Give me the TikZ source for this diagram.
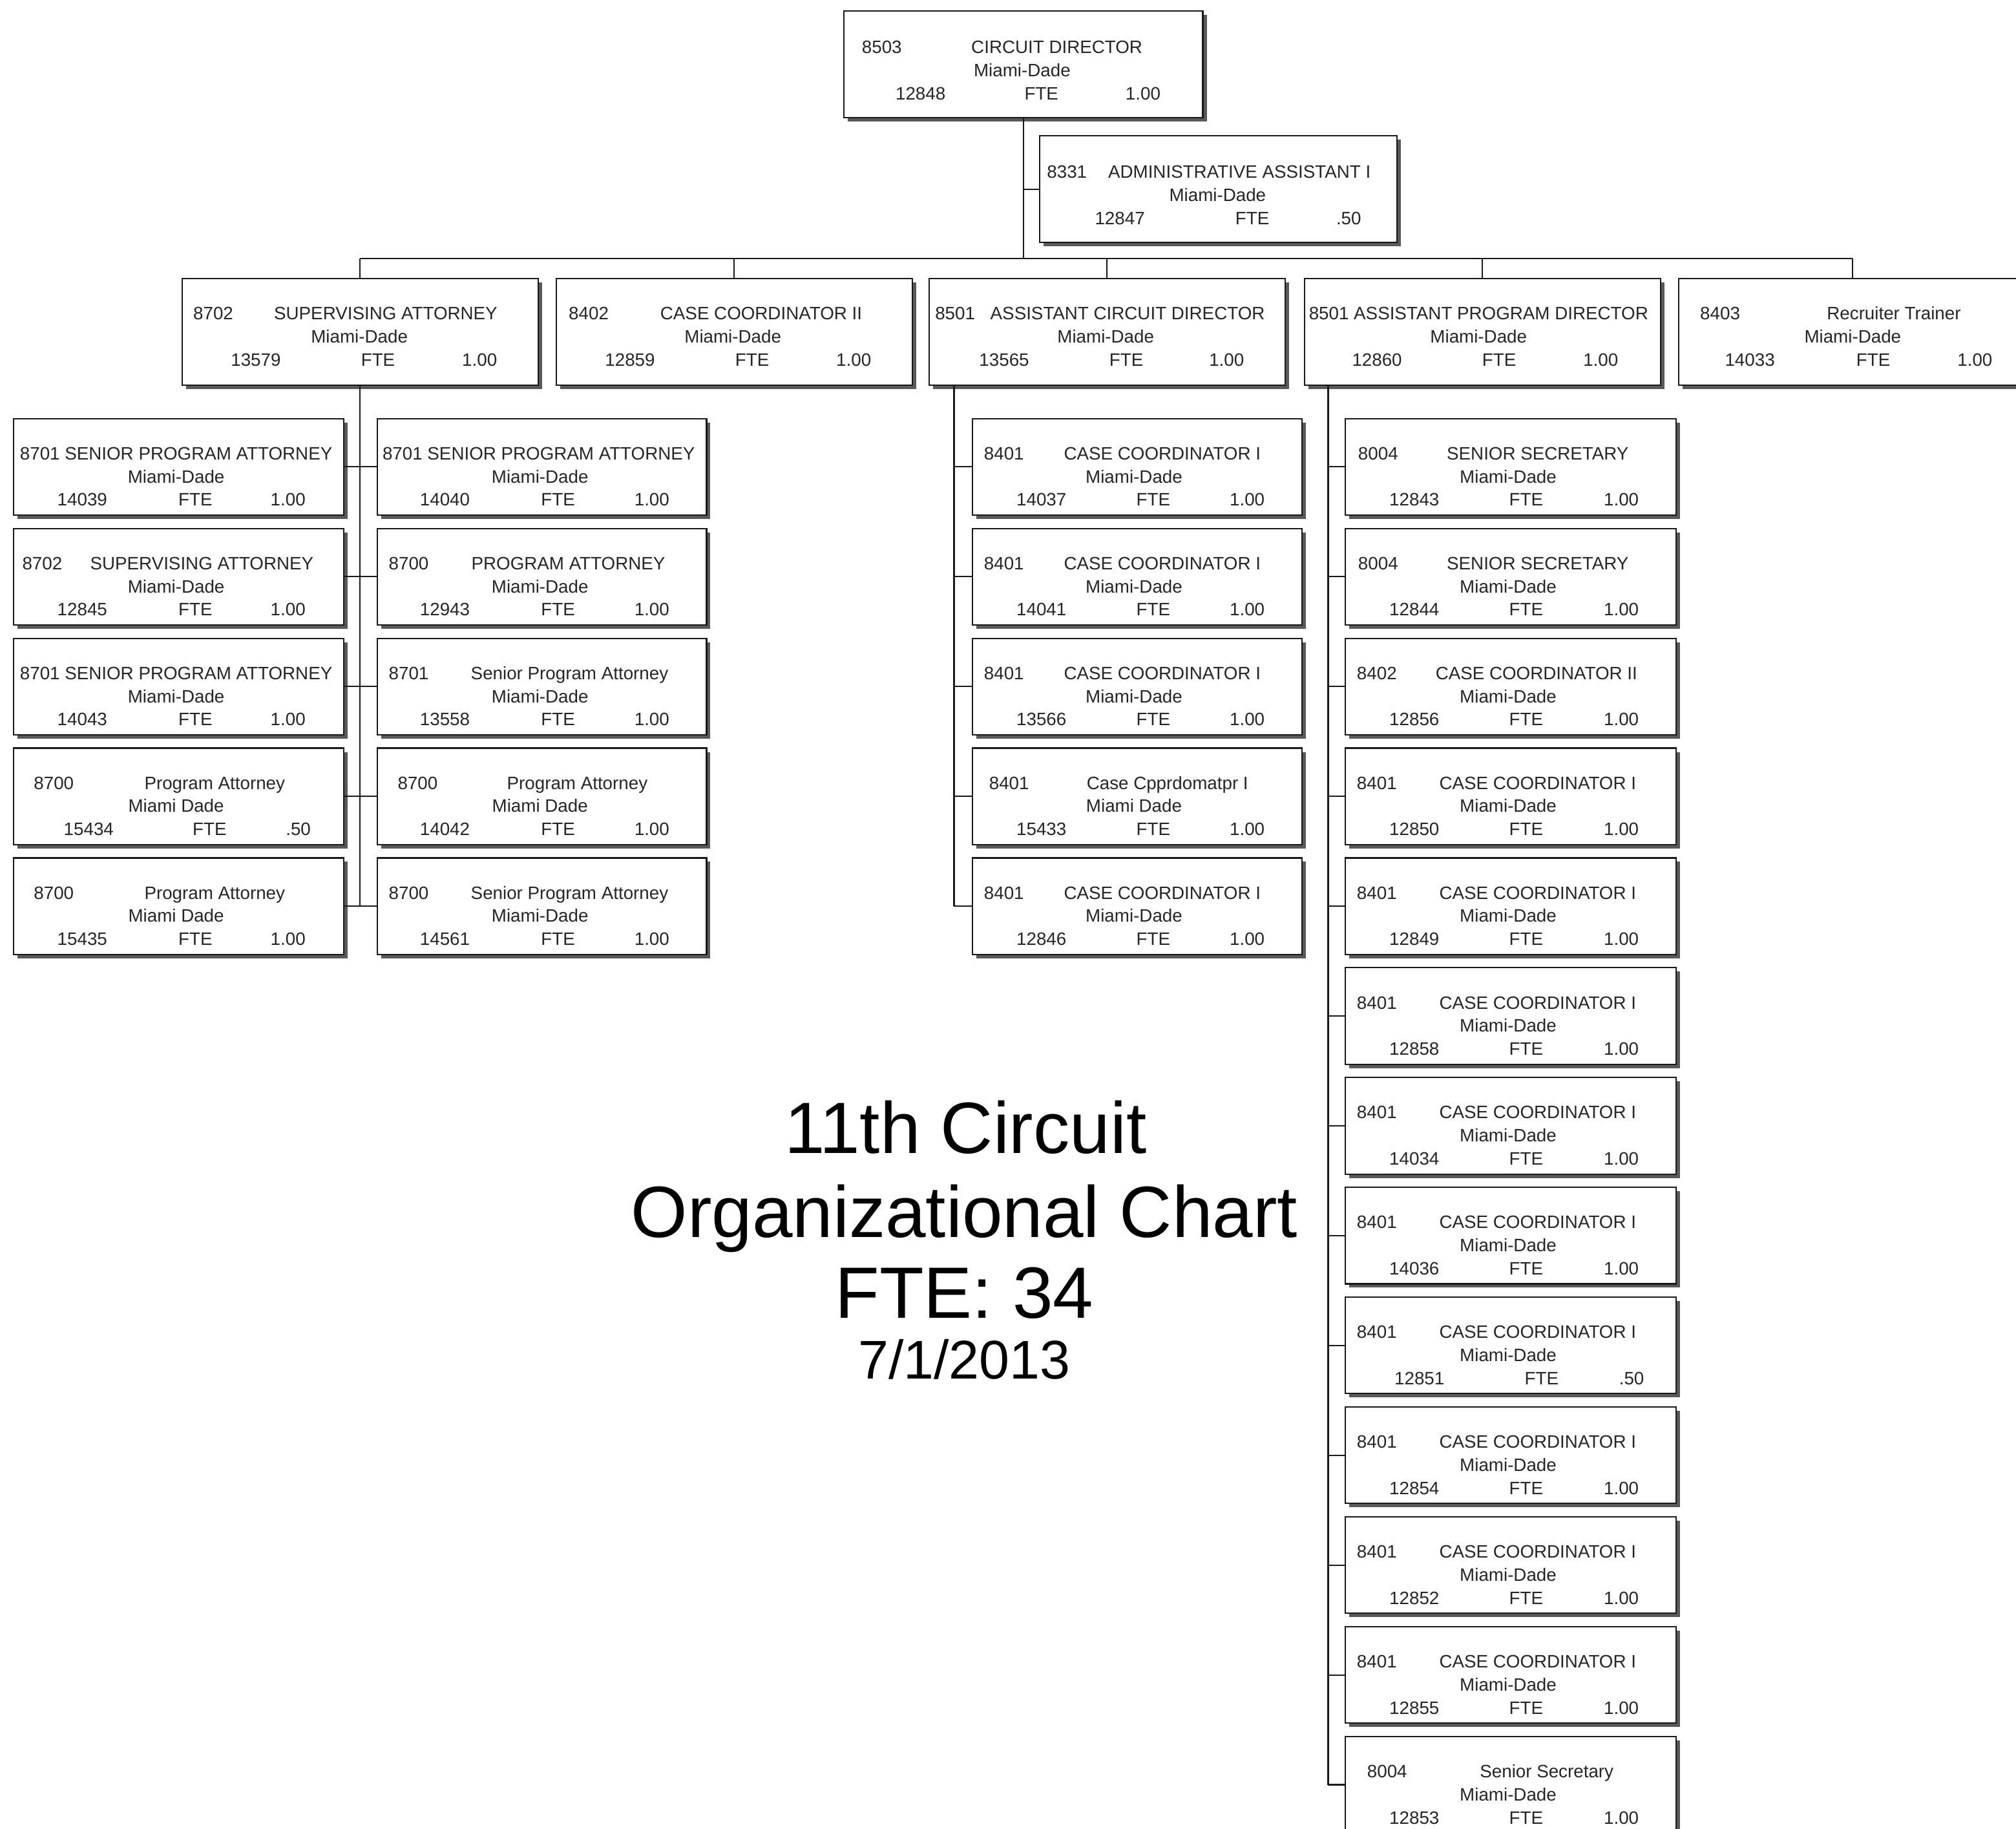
\documentclass[tikz,border=0pt]{standalone}
\usepackage{fontspec}
\setmainfont{Liberation Sans}
\usetikzlibrary{shadows}

\newlength\ux
\setlength\ux{0.199mm}

\tikzset{
  post/.style={draw=black!90, line width=0.6pt, fill=white, rectangle,
    inner sep=0pt, anchor=north west,
    general shadow={fill=black!65, shadow xshift=0.6mm, shadow yshift=-0.6mm}},
  txt/.style={inner sep=0pt, anchor=base, font=\fontsize{7.9}{9}\selectfont, text=black!85},
  link/.style={draw=black!90, line width=0.6pt},
  headline/.style={inner sep=0pt, anchor=base, text=black},
}

% box: name, left, top, width, height
\newcommand\jobcard[5]{\node[post, minimum width=#4\ux, minimum height=#5\ux] (#1) at (#2,#3) {};}
% first line: name, top, code left, code, title centre, title
\newcommand\lineA[6]{%
  \node[txt, anchor=base west] (#1-code) at (#3,#2+32.5) {#4};
  \node[txt] (#1-title) at (#5,#2+32.5) {#6};}
% first line as one string: name, top, centre, text
\newcommand\lineAA[4]{\node[txt] (#1-title) at (#3,#2+32.5) {#4};}
% second line: name, top, centre, text
\newcommand\lineB[4]{\node[txt] (#1-site) at (#3,#2+50.5) {#4};}
% third line: name, top, number centre, number, FTE centre, value centre, value
\newcommand\lineC[7]{%
  \node[txt] (#1-num) at (#3,#2+68.5) {#4};
  \node[txt] (#1-fte) at (#5,#2+68.5) {FTE};
  \node[txt] (#1-val) at (#6,#2+68.5) {#7};}

\begin{document}
\begin{tikzpicture}[x=0.199mm, y=-0.199mm]
\useasboundingbox (0,0) rectangle (1568,1422);
\clip (0,0) rectangle (1568,1422);

% ---------- director and assistant ----------
\jobcard{dir}{656}{8}{279}{83}
\lineA{dir}{9}{670}{8503}{822}{CIRCUIT DIRECTOR}
\lineB{dir}{9}{795}{Miami-Dade}
\lineC{dir}{9}{716}{12848}{810}{889}{1.00}

\jobcard{adm}{808}{105}{278}{83}
\lineA{adm}{106}{814}{8331}{964}{ADMINISTRATIVE ASSISTANT I}
\lineB{adm}{106}{947}{Miami-Dade}
\lineC{adm}{106}{871}{12847}{974}{1049}{.50}

% ---------- second level ----------
\jobcard{sa}{141}{216}{277}{83}
\lineA{sa}{216}{150}{8702}{300}{SUPERVISING ATTORNEY}
\lineB{sa}{216}{279.5}{Miami-Dade}
\lineC{sa}{216}{199}{13579}{294}{373}{1.00}

\jobcard{cc}{432}{216}{277}{83}
\lineA{cc}{216}{442}{8402}{592}{CASE COORDINATOR II}
\lineB{cc}{216}{570}{Miami-Dade}
\lineC{cc}{216}{490}{12859}{585}{664}{1.00}

\jobcard{acd}{722}{216}{277}{83}
\lineA{acd}{216}{727}{8501}{877}{ASSISTANT CIRCUIT DIRECTOR}
\lineB{acd}{216}{860}{Miami-Dade}
\lineC{acd}{216}{781}{13565}{876}{954}{1.00}

\jobcard{apd}{1014}{216}{277}{83}
\lineAA{apd}{216}{1150}{8501 ASSISTANT PROGRAM DIRECTOR}
\lineB{apd}{216}{1150}{Miami-Dade}
\lineC{apd}{216}{1071}{12860}{1166}{1245}{1.00}

\jobcard{rt}{1305}{216}{277}{83}
\lineA{rt}{216}{1322}{8403}{1473}{Recruiter Trainer}
\lineB{rt}{216}{1441}{Miami-Dade}
\lineC{rt}{216}{1361}{14033}{1457}{1536}{1.00}

% ---------- attorneys, left column ----------
\jobcard{sl1}{10}{325}{257}{75}
\lineAA{sl1}{325}{137}{8701 SENIOR PROGRAM ATTORNEY}
\lineB{sl1}{325}{137}{Miami-Dade}
\lineC{sl1}{325}{64}{14039}{152}{224}{1.00}

\jobcard{sl2}{10}{410.4}{257}{75}
\lineA{sl2}{410.4}{17}{8702}{157}{SUPERVISING ATTORNEY}
\lineB{sl2}{410.4}{137}{Miami-Dade}
\lineC{sl2}{410.4}{64}{12845}{152}{224}{1.00}

\jobcard{sl3}{10}{495.8}{257}{75}
\lineAA{sl3}{495.8}{137}{8701 SENIOR PROGRAM ATTORNEY}
\lineB{sl3}{495.8}{137}{Miami-Dade}
\lineC{sl3}{495.8}{64}{14043}{152}{224}{1.00}

\jobcard{sl4}{10}{581.2}{257}{75}
\lineA{sl4}{581.2}{26}{8700}{167}{Program Attorney}
\lineB{sl4}{581.2}{137}{Miami Dade}
\lineC{sl4}{581.2}{69}{15434}{163}{232}{.50}

\jobcard{sl5}{10}{666.6}{257}{75}
\lineA{sl5}{666.6}{26}{8700}{167}{Program Attorney}
\lineB{sl5}{666.6}{137}{Miami Dade}
\lineC{sl5}{666.6}{64}{15435}{152}{224}{1.00}

% ---------- attorneys, right column ----------
\jobcard{sr1}{293}{325}{256}{75}
\lineAA{sr1}{325}{419}{8701 SENIOR PROGRAM ATTORNEY}
\lineB{sr1}{325}{420}{Miami-Dade}
\lineC{sr1}{325}{346}{14040}{434}{507}{1.00}

\jobcard{sr2}{293}{410.4}{256}{75}
\lineA{sr2}{410.4}{302}{8700}{442}{PROGRAM ATTORNEY}
\lineB{sr2}{410.4}{420}{Miami-Dade}
\lineC{sr2}{410.4}{346}{12943}{434}{507}{1.00}

\jobcard{sr3}{293}{495.8}{256}{75}
\lineA{sr3}{495.8}{302}{8701}{443}{Senior Program Attorney}
\lineB{sr3}{495.8}{420}{Miami-Dade}
\lineC{sr3}{495.8}{346}{13558}{434}{507}{1.00}

\jobcard{sr4}{293}{581.2}{256}{75}
\lineA{sr4}{581.2}{309}{8700}{449}{Program Attorney}
\lineB{sr4}{581.2}{420}{Miami Dade}
\lineC{sr4}{581.2}{346}{14042}{434}{507}{1.00}

\jobcard{sr5}{293}{666.6}{256}{75}
\lineA{sr5}{666.6}{302}{8700}{443}{Senior Program Attorney}
\lineB{sr5}{666.6}{420}{Miami-Dade}
\lineC{sr5}{666.6}{346}{14561}{434}{507}{1.00}

% ---------- case coordinators under the assistant circuit director ----------
\foreach \n/\t/\num in {ac1/325/14037, ac2/410.4/14041, ac3/495.8/13566, ac5/666.6/12846}{
  \jobcard{\n}{756}{\t}{256}{75}
  \lineA{\n}{\t}{765}{8401}{904}{CASE COORDINATOR I}
  \lineB{\n}{\t}{882}{Miami-Dade}
  \lineC{\n}{\t}{810}{\num}{897}{970}{1.00}
}
\jobcard{ac4}{756}{581.2}{256}{75}
\lineA{ac4}{581.2}{769}{8401}{908}{Case Cpprdomatpr I}
\lineB{ac4}{581.2}{882}{Miami Dade}
\lineC{ac4}{581.2}{810}{15433}{897}{970}{1.00}

% ---------- staff under the assistant program director ----------
\foreach \n/\t/\num in {ap1/325/12843, ap2/410.4/12844}{
  \jobcard{\n}{1046}{\t}{257}{75}
  \lineA{\n}{\t}{1056}{8004}{1196}{SENIOR SECRETARY}
  \lineB{\n}{\t}{1173}{Miami-Dade}
  \lineC{\n}{\t}{1100}{\num}{1187}{1261}{1.00}
}
\jobcard{ap3}{1046}{495.8}{257}{75}
\lineA{ap3}{495.8}{1055}{8402}{1195}{CASE COORDINATOR II}
\lineB{ap3}{495.8}{1173}{Miami-Dade}
\lineC{ap3}{495.8}{1100}{12856}{1187}{1261}{1.00}

\foreach \n/\t/\num in {ap4/581.2/12850, ap5/666.6/12849, ap6/752/12858, ap7/837.4/14034,
    ap8/922.8/14036, ap10/1093.6/12854, ap11/1179/12852, ap12/1264.4/12855}{
  \jobcard{\n}{1046}{\t}{257}{75}
  \lineA{\n}{\t}{1055}{8401}{1196}{CASE COORDINATOR I}
  \lineB{\n}{\t}{1173}{Miami-Dade}
  \lineC{\n}{\t}{1100}{\num}{1187}{1261}{1.00}
}
\jobcard{ap9}{1046}{1008.2}{257}{75}
\lineA{ap9}{1008.2}{1055}{8401}{1196}{CASE COORDINATOR I}
\lineB{ap9}{1008.2}{1173}{Miami-Dade}
\lineC{ap9}{1008.2}{1104}{12851}{1199}{1269}{.50}

\jobcard{ap13}{1046}{1349.8}{257}{75}
\lineA{ap13}{1349.8}{1063}{8004}{1203}{Senior Secretary}
\lineB{ap13}{1349.8}{1173}{Miami-Dade}
\lineC{ap13}{1349.8}{1100}{12853}{1187}{1261}{1.00}

% ---------- connectors ----------
\coordinate (bus) at (795,201);
\draw[link] (dir.south) -- (dir.south |- bus);
\draw[link] (adm.west) -- (adm.west -| dir.south);
\draw[link] (sa.north |- bus) -- (1441,201);
\foreach \n in {sa,cc,acd,apd}{\draw[link] (\n.north |- bus) -- (\n.north);}
\draw[link] (1441,201) -- (rt.north -| 1441,0);

\draw[link] (sa.south) -- (sa.south |- sl5.east);
\foreach \i in {1,...,5}{\draw[link] (sl\i.east) -- (sr\i.west);}

\coordinate (acdtrunk) at (742,0);
\draw[link] (acd.south -| acdtrunk) -- (acdtrunk |- ac5.west);
\foreach \i in {1,...,5}{\draw[link] (acdtrunk |- ac\i.west) -- (ac\i.west);}

\coordinate (apdtrunk) at (1033,0);
\draw[link] (apd.south -| apdtrunk) -- (apdtrunk |- ap13.west);
\foreach \i in {1,...,13}{\draw[link] (apdtrunk |- ap\i.west) -- (ap\i.west);}

% ---------- heading ----------
\node[headline, font=\fontsize{32}{36}\selectfont] (head1) at (751,897) {11th Circuit};
\node[headline, font=\fontsize{32}{36}\selectfont] (head2) at (750,962) {Organizational Chart};
\node[headline, font=\fontsize{32}{36}\selectfont] (head3) at (750,1025) {FTE: 34};
\node[headline, font=\fontsize{24}{28}\selectfont] (head4) at (750,1072) {7/1/2013};
\end{tikzpicture}
\end{document}
